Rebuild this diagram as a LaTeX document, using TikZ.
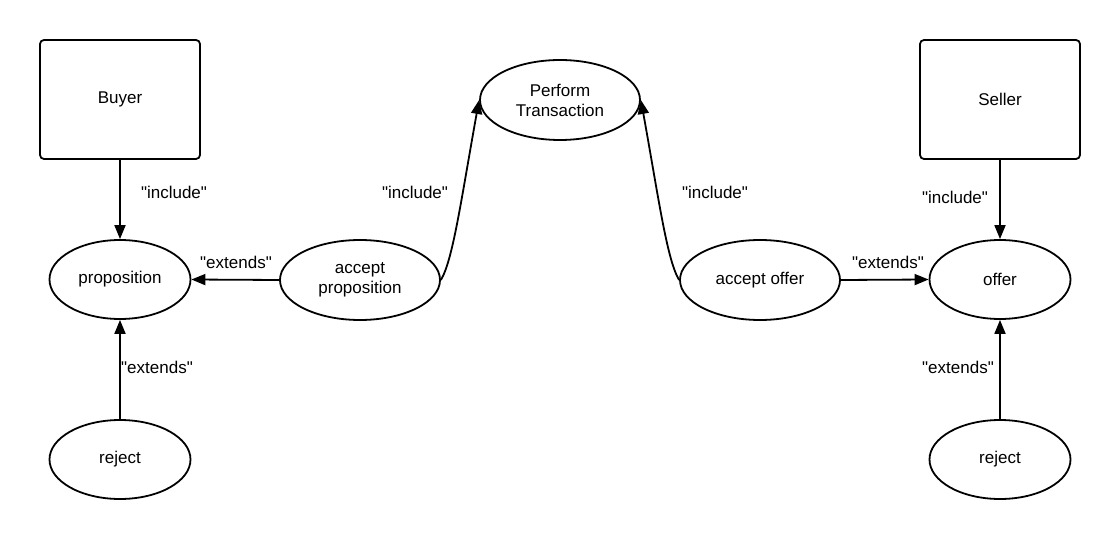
\documentclass[tikz,border=0pt]{standalone}
\usepackage{fontspec}
\newfontfamily\diafont{Liberation Sans}
\usetikzlibrary{shapes.geometric,arrows.meta}
\begin{document}
\begin{tikzpicture}[x=1pt,y=-1pt,
  every node/.style={font=\diafont\fontsize{17}{20}\selectfont},
  actor/.style={draw,line width=1.8pt,rounded corners=4pt,minimum width=160pt,minimum height=119pt,inner sep=0pt},
  usecase/.style={draw,line width=1.8pt,ellipse,inner sep=0pt,align=center},
  conn/.style={line width=1.8pt,-{Triangle[length=14pt,width=11pt]}},
  lbl/.style={inner sep=0pt}]
\useasboundingbox (0,0) rectangle (1120,540);
\node[actor] (buyer) at (120,99.5) {Buyer};
\node[actor] (seller) at (1000,99.5) {Seller};
\node[usecase,minimum width=160pt,minimum height=80pt] (pt) at (560,100) {Perform\\Transaction};
\node[usecase,minimum width=141pt,minimum height=79pt] (prop) at (120,279.5) {proposition};
\node[usecase,minimum width=160pt,minimum height=80pt] (ap) at (360,280) {accept\\proposition};
\node[usecase,minimum width=160pt,minimum height=80pt] (ao) at (760,280) {accept offer};
\node[usecase,minimum width=141pt,minimum height=79pt] (offer) at (1000,279.5) {offer};
\node[usecase,minimum width=141pt,minimum height=79pt] (rejl) at (120,459.5) {reject};
\node[usecase,minimum width=141pt,minimum height=79pt] (rejr) at (1000,459.5) {reject};

\draw[conn] (buyer.south) -- (prop.north);
\draw[conn] (ap.west) -- (prop.east);
\draw[conn] (rejl.north) -- (prop.south);
\draw[conn] (ap.east) .. controls +(12,-20) and +(-18,100) .. (pt.west);
\draw[conn] (ao.west) .. controls +(-12,-20) and +(18,100) .. (pt.east);
\draw[conn] (ao.east) -- (offer.west);
\draw[conn] (seller.south) -- (offer.north);
\draw[conn] (rejr.north) -- (offer.south);

\node[lbl] (l1) at (174,192) {"include"};
\node[lbl] (l2) at (236,262) {"extends"};
\node[lbl] (l3) at (157,367) {"extends"};
\node[lbl] (l4) at (415,192) {"include"};
\node[lbl] (l5) at (715,192) {"include"};
\node[lbl] (l6) at (888,262) {"extends"};
\node[lbl] (l7) at (955,197) {"include"};
\node[lbl] (l8) at (958,367) {"extends"};
\end{tikzpicture}
\end{document}
